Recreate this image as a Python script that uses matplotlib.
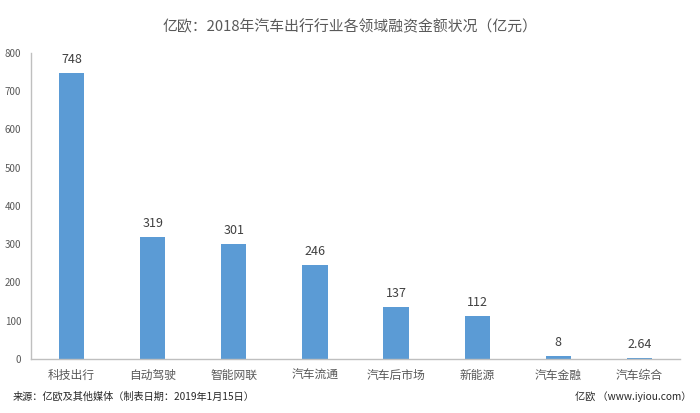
import matplotlib.pyplot as plt

plt.rcParams['font.family'] = ['Noto Sans CJK SC', 'DejaVu Sans']

# 数据
categories = ["科技出行", "自动驾驶", "智能网联", "汽车流通", "汽车后市场", "新能源", "汽车金融", "汽车综合"]
values = [748, 319, 301, 246, 137, 112, 8, 2.64]
labels = ["748", "319", "301", "246", "137", "112", "8", "2.64"]
yticks = [0, 100, 200, 300, 400, 500, 600, 700, 800]

fig = plt.figure(figsize=(7, 4.13), dpi=100)
ax = fig.add_axes([0.0443, 0.1308, 0.9271, 0.7409])

x = range(len(categories))
ax.bar(x, values, width=0.31, color="#5B9BD5")
for i, (v, t) in enumerate(zip(values, labels)):
    ax.text(i, v + 18, t, ha="center", va="bottom", fontsize=9, color="#404040")

ax.set_xlim(-0.5, len(categories) - 0.5)
ax.set_ylim(0, 800)
ax.set_yticks(yticks)
ax.set_yticklabels([str(t) for t in yticks], fontsize=7, color="#595959")
ax.set_xticks(list(x))
ax.set_xticklabels(categories, fontsize=8.5, color="#595959")
ax.tick_params(length=0)
ax.tick_params(axis="y", pad=7)
ax.tick_params(axis="x", pad=7)

for s in ["top", "right"]:
    ax.spines[s].set_visible(False)
for s in ["left", "bottom"]:
    ax.spines[s].set_color("#BFBFBF")
    ax.spines[s].set_linewidth(1)

fig.text(0.5, 0.935, "亿欧：2018年汽车出行行业各领域融资金额状况（亿元）",
         ha="center", va="center", fontsize=10.7, color="#595959")
fig.text(0.018, 0.04, "来源：亿欧及其他媒体（制表日期：2019年1月15日）",
         ha="left", va="center", fontsize=7.3, color="#262626")
fig.text(0.988, 0.04, "亿欧 （www.iyiou.com）",
         ha="right", va="center", fontsize=7.3, color="#262626")

fig.savefig("out.png", dpi=100)
